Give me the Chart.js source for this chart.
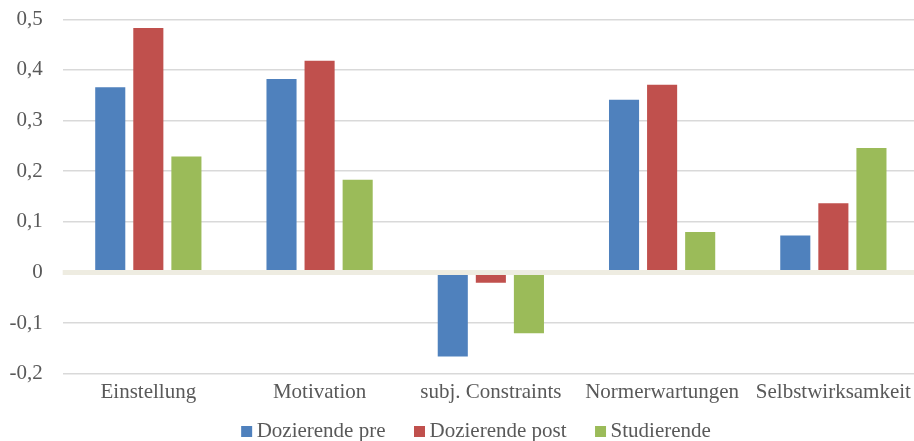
<!DOCTYPE html>
<html lang="de">
<head>
<meta charset="utf-8">
<title>Dozierende und Studierende</title>
<script src="https://cdn.jsdelivr.net/npm/chart.js@4/dist/chart.umd.min.js"></script>
<style>
  html, body { margin: 0; padding: 0; background: #ffffff; overflow: hidden; }
  #wrap { width: 920px; height: 441px; }
</style>
</head>
<body>
<div id="wrap"><canvas id="chart" width="920" height="441"></canvas></div>
<script>
// Kategorien der x-Achse
const categories = ['Einstellung', 'Motivation', 'subj. Constraints', 'Normerwartungen', 'Selbstwirksamkeit'];

// Werte je Gruppe
const dozierendePre  = [0.366, 0.382, -0.166, 0.341, 0.073];
const dozierendePost = [0.483, 0.418, -0.020, 0.371, 0.137];
const studierende    = [0.229, 0.183, -0.120, 0.080, 0.246];

// Beschriftung der y-Achse (von unten nach oben)
const yTickLabels = ['-0,2', '-0,1', '0', '0,1', '0,2', '0,3', '0,4', '0,5'];

const FONT = '"Liberation Serif", "Times New Roman", serif';
const TEXT_COLOR = '#595959';
const FONT_SIZE = 21;

// Nulllinie über den Balken zeichnen
const zeroLinePlugin = {
  id: 'zeroLine',
  afterDatasetsDraw(chart) {
    const y = chart.scales.y.getPixelForValue(0);
    const { left, right } = chart.chartArea;
    const ctx = chart.ctx;
    ctx.save();
    ctx.strokeStyle = '#EEECE1';
    ctx.lineWidth = 5;
    ctx.beginPath();
    ctx.moveTo(left, y);
    ctx.lineTo(right, y);
    ctx.stroke();
    ctx.restore();
  }
};

// Legende unterhalb der Achse
const bottomLegendPlugin = {
  id: 'bottomLegend',
  afterDraw(chart) {
    const ctx = chart.ctx;
    ctx.save();
    ctx.font = FONT_SIZE + 'px ' + FONT;
    ctx.textBaseline = 'alphabetic';
    const box = 11, gap = 4.5, spacing = 28.5;
    const items = chart.data.datasets.map(ds => ({
      text: ds.label,
      color: ds.backgroundColor,
      w: ctx.measureText(ds.label).width
    }));
    const total = items.reduce((s, it) => s + box + gap + it.w, 0) + spacing * (items.length - 1);
    let x = 476 - total / 2;
    const baseline = 437;
    items.forEach(it => {
      ctx.fillStyle = it.color;
      ctx.fillRect(x, baseline - box, box, box);
      x += box + gap;
      ctx.fillStyle = TEXT_COLOR;
      ctx.fillText(it.text, x, baseline);
      x += it.w + spacing;
    });
    ctx.restore();
  }
};

new Chart(document.getElementById('chart'), {
  type: 'bar',
  data: {
    labels: categories,
    datasets: [
      { label: 'Dozierende pre',  data: dozierendePre,  backgroundColor: '#4F81BD' },
      { label: 'Dozierende post', data: dozierendePost, backgroundColor: '#C0504D' },
      { label: 'Studierende',     data: studierende,    backgroundColor: '#9BBB59' }
    ]
  },
  options: {
    responsive: false,
    animation: false,
    devicePixelRatio: 1,
    datasets: {
      bar: { categoryPercentage: 0.667, barPercentage: 0.79 }
    },
    layout: { padding: { left: 10, right: 1, top: 19.3, bottom: 29 } },
    plugins: {
      legend: { display: false },
      tooltip: { enabled: false }
    },
    scales: {
      x: {
        grid: { display: false, drawTicks: false },
        border: { display: false },
        ticks: {
          padding: 6.5,
          color: TEXT_COLOR,
          font: { family: FONT, size: FONT_SIZE },
          maxRotation: 0,
          autoSkip: false
        }
      },
      y: {
        min: -0.2,
        max: 0.5,
        afterFit: scale => {
          scale.width = 52.7;
          scale.paddingTop = 0;
          scale.paddingBottom = 0;
        },
        grid: {
          drawTicks: false,
          lineWidth: 1.5,
          color: c => (c.tick && Math.abs(c.tick.value) < 1e-9) ? 'rgba(0,0,0,0)' : '#D9D9D9'
        },
        border: { display: false },
        ticks: {
          stepSize: 0.1,
          padding: 20,
          color: TEXT_COLOR,
          font: { family: FONT, size: FONT_SIZE },
          callback: (value, index) => yTickLabels[index]
        }
      }
    }
  },
  plugins: [zeroLinePlugin, bottomLegendPlugin]
});
</script>
</body>
</html>
